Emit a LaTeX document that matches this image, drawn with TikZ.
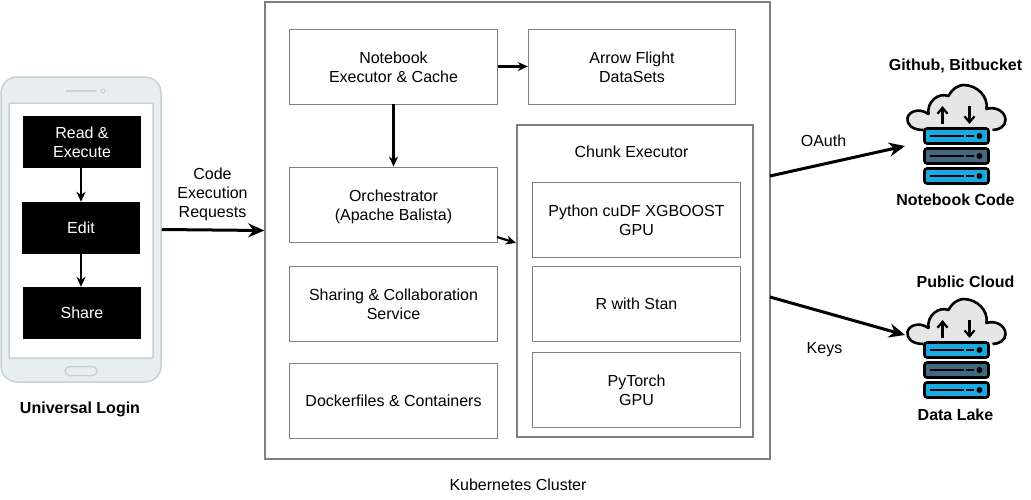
\documentclass[tikz,border=0pt]{standalone}
\usepackage{fontspec}
\setmainfont{Liberation Sans}
\usetikzlibrary{arrows.meta}
\definecolor{phonefill}{HTML}{E6EEF0}
\definecolor{phoneline}{HTML}{C6D2D3}
\definecolor{boxline}{HTML}{808080}
\definecolor{cloudfill}{HTML}{E6E6E6}
\definecolor{serverblue}{HTML}{1BA9E1}
\definecolor{serverslate}{HTML}{44697F}
\newcommand{\lift}{\rule{0pt}{14pt}}
\tikzstyle{every node}=[font=\fontsize{16}{19}\selectfont, align=center, inner sep=0pt]
\tikzstyle{servicebox}=[draw=boxline, fill=white, line width=0.9pt, minimum width=207.5pt, minimum height=75pt]
\tikzstyle{stepbox}=[fill=black, text=white, minimum width=118pt, minimum height=52pt]
\tikzstyle{boldlabel}=[font=\fontsize{16}{19}\selectfont\bfseries]
\tikzstyle{flow}=[-{Stealth[length=10pt,width=9pt]}, line width=2.2pt]
\tikzstyle{bigflow}=[-{Stealth[length=16pt,width=14pt]}, line width=3pt]
\tikzset{cloudicon/.pic={
    \draw[fill=cloudfill, line width=2.6pt, line join=round] (-33,2) .. controls (-45,2) and (-50,-4) .. (-49,-10)
        .. controls (-48,-16) and (-38,-21) .. (-28,-14) .. controls (-30,-26) and (-18,-36) .. (-8,-32)
        .. controls (-4,-40) and (3,-43) .. (7,-43) .. controls (20,-43) and (32,-32) .. (30,-19)
        .. controls (38,-22) and (49,-17) .. (49,-8) .. controls (49,-2) and (43,2) .. (36,2);
    \draw[-{Straight Barb[length=6pt,width=10pt]}, line width=2.2pt] (-14,-4) -- (-14,-22);
    \draw[-{Straight Barb[length=6pt,width=10pt]}, line width=2.2pt] (13,-22) -- (13,-4);
    \foreach \y/\c in {8/serverblue, 28/serverslate, 48/serverblue} {
        \draw[fill=\c, line width=2.6pt, rounded corners=2.5pt] (-32,\y-7.5) rectangle (32,\y+7.5);
        \draw[line width=2pt] (-27,\y) -- (7,\y);
        \draw[line width=2pt] (9.5,\y) -- (17,\y);
        \fill (23,\y) circle (3);
    }
}}

\begin{document}
\begin{tikzpicture}[x=1pt, y=-1pt]
\useasboundingbox (0,0) rectangle (1031,499);
% Phone
    \node (phone) at (81,229.5) [draw=phoneline, fill=phonefill, line width=1.5pt, rounded corners=16pt, minimum width=160pt, minimum height=305pt] {};
    \node (screen) at (81,230.5) [draw=phoneline, fill=white, line width=1.5pt, rounded corners=1pt, minimum width=144pt, minimum height=255pt] {};
    \draw[phoneline, line width=1.5pt, line cap=round] (66,91) -- (96,91);
    \draw[phoneline, line width=1pt] (103,91) circle (2);
    \draw[phoneline, line width=1.5pt, rounded corners=4.5pt] (65,366.5) rectangle (97,375.5);
% Steps on the phone
    \node (read) at (82,142) [stepbox] {Read \&\\Execute};
    \node (edit) at (81,228) [stepbox] {Edit};
    \node (share) at (82,313) [stepbox] {Share};
    \draw[flow] (edit.north |- read.south) -- (edit.north);
    \draw[flow] (edit.south) -- (edit.south |- share.north);
    \node (login) at (80,409.5) [boldlabel] {Universal Login};
% Cluster
    \node (cluster) at (517.5,230.5) [draw=boxline, line width=1.6pt, minimum width=505pt, minimum height=457pt] {};
    \node (clusterlabel) at (518,485) {Kubernetes Cluster};
    \node (notebook) at (393.5,66.5) [servicebox] {\lift Notebook\\Executor \& Cache};
    \node (flight) at (632,66.5) [servicebox] {\lift Arrow Flight\\DataSets};
    \node (orchestrator) at (393.5,204.5) [servicebox] {\rule{0pt}{16pt}Orchestrator\\(Apache Balista)};
    \node (sharing) at (393.5,303.5) [servicebox] {\lift Sharing \& Collaboration\\Service};
    \node (docker) at (393.5,400.5) [servicebox] {Dockerfiles \& Containers};
% Chunk executor
    \node (chunk) at (635,281) [draw=boxline, line width=1.6pt, minimum width=236pt, minimum height=312pt] {};
    \node (chunklabel) at (631.5,152) {Chunk Executor};
    \node (python) at (636.5,219.5) [servicebox] {\lift Python cuDF XGBOOST\\GPU};
    \node (rstan) at (636.5,304) [servicebox] {R with Stan};
    \node (pytorch) at (636.5,389.5) [servicebox] {\lift PyTorch\\GPU};
% Arrows in the cluster
    \coordinate (orchout) at (497,237);
    \coordinate (chunkin) at (516,243);
    \draw[flow] (notebook.east) -- (flight.west);
    \draw[flow] (notebook.south) -- (orchestrator.north);
    \draw[flow] (orchout) -- (chunkin);
% Requests
    \draw[bigflow] (phone.east) -- (cluster.west);
    \node (requests) at (212.5,194) {Code\\Execution\\Requests};
% Clouds
    \pic at (956.5,128) {cloudicon};
    \pic at (956.5,342) {cloudicon};
    \node (github) at (955.5,66) [boldlabel] {Github, Bitbucket};
    \node (code) at (955.5,200) [boldlabel] {Notebook Code};
    \node (public) at (965.5,282) [boldlabel] {Public Cloud};
    \node (lake) at (955.5,415) [boldlabel] {Data Lake};
% Links to the clouds
    \coordinate (oauthout) at (770,176);
    \coordinate (oauthin) at (905,146);
    \coordinate (keysout) at (770,297);
    \coordinate (keysin) at (905,335);
    \draw[bigflow] (oauthout) -- (oauthin);
    \draw[bigflow] (keysout) -- (keysin);
    \node (oauth) at (823.5,141) {OAuth};
    \node (keys) at (824.5,350) {Keys};
\end{tikzpicture}
\end{document}
